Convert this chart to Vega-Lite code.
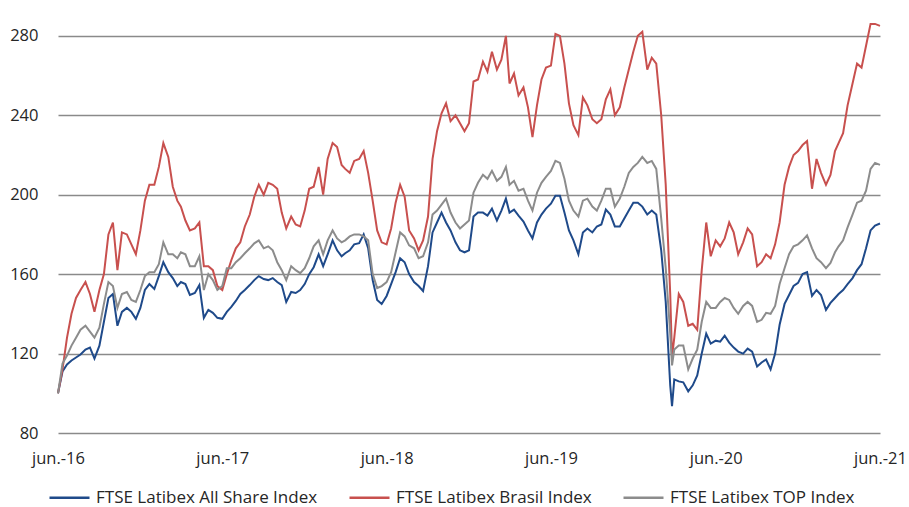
{
  "$schema": "https://vega.github.io/schema/vega-lite/v6.json",
  "autosize": "none",
  "width": 822,
  "height": 421,
  "padding": {"left": 58, "top": 12, "right": 29, "bottom": 74},
  "background": "white",
  "config": {
    "view": {"stroke": null},
    "font": "Open Sans"
  },
  "data": {
    "values": [
      {"d":"2016-06-01","a":100,"b":100,"t":100},
      {"d":"2016-06-11","a":111,"b":112,"t":115},
      {"d":"2016-06-21","a":114.5,"b":128,"t":119},
      {"d":"2016-07-01","a":116.5,"b":140,"t":124},
      {"d":"2016-07-11","a":118,"b":148,"t":128},
      {"d":"2016-07-21","a":119.5,"b":152,"t":132},
      {"d":"2016-08-01","a":122,"b":156,"t":134},
      {"d":"2016-08-11","a":123,"b":150,"t":131},
      {"d":"2016-08-21","a":117.5,"b":141,"t":128},
      {"d":"2016-09-01","a":124,"b":152,"t":133},
      {"d":"2016-09-11","a":136,"b":160,"t":145},
      {"d":"2016-09-21","a":148,"b":180,"t":156},
      {"d":"2016-10-01","a":150,"b":186,"t":154},
      {"d":"2016-10-11","a":134,"b":162,"t":143},
      {"d":"2016-10-21","a":141,"b":181,"t":150},
      {"d":"2016-11-01","a":143,"b":180,"t":151},
      {"d":"2016-11-11","a":141,"b":175,"t":147},
      {"d":"2016-11-21","a":137.5,"b":170,"t":146},
      {"d":"2016-12-01","a":143,"b":182,"t":152},
      {"d":"2016-12-11","a":152,"b":197,"t":159},
      {"d":"2016-12-21","a":155,"b":205,"t":161},
      {"d":"2017-01-01","a":152.5,"b":205,"t":161},
      {"d":"2017-01-11","a":159,"b":214,"t":165},
      {"d":"2017-01-21","a":166,"b":226,"t":176},
      {"d":"2017-02-01","a":161,"b":219,"t":170},
      {"d":"2017-02-11","a":158,"b":204,"t":170},
      {"d":"2017-02-21","a":154,"b":197,"t":168},
      {"d":"2017-03-01","a":156,"b":194,"t":171},
      {"d":"2017-03-11","a":155,"b":187,"t":170},
      {"d":"2017-03-21","a":149.5,"b":182,"t":164},
      {"d":"2017-04-01","a":150.5,"b":183,"t":164},
      {"d":"2017-04-11","a":154.5,"b":186,"t":169},
      {"d":"2017-04-21","a":138,"b":164,"t":152},
      {"d":"2017-05-01","a":142,"b":164,"t":160},
      {"d":"2017-05-11","a":140.5,"b":162,"t":157},
      {"d":"2017-05-21","a":138,"b":154,"t":152},
      {"d":"2017-06-01","a":137.5,"b":152,"t":154},
      {"d":"2017-06-11","a":141,"b":160,"t":163},
      {"d":"2017-06-21","a":143.5,"b":167,"t":163},
      {"d":"2017-07-01","a":146.5,"b":173,"t":166},
      {"d":"2017-07-11","a":150,"b":176,"t":168},
      {"d":"2017-07-21","a":152,"b":184,"t":170.5},
      {"d":"2017-08-01","a":154.5,"b":190,"t":173},
      {"d":"2017-08-11","a":157,"b":199,"t":175.5},
      {"d":"2017-08-21","a":159,"b":205,"t":177},
      {"d":"2017-09-01","a":157.5,"b":200,"t":173},
      {"d":"2017-09-11","a":157,"b":206,"t":174},
      {"d":"2017-09-21","a":158,"b":205,"t":172},
      {"d":"2017-10-01","a":156,"b":203,"t":166},
      {"d":"2017-10-11","a":154.5,"b":191,"t":162},
      {"d":"2017-10-21","a":146,"b":183,"t":157},
      {"d":"2017-11-01","a":151,"b":189,"t":164},
      {"d":"2017-11-11","a":150.5,"b":185,"t":162},
      {"d":"2017-11-21","a":152,"b":184,"t":160.5},
      {"d":"2017-12-01","a":155,"b":192,"t":163},
      {"d":"2017-12-11","a":160,"b":203,"t":168},
      {"d":"2017-12-21","a":163.5,"b":204,"t":174},
      {"d":"2018-01-01","a":170,"b":214,"t":177},
      {"d":"2018-01-11","a":164,"b":200,"t":170},
      {"d":"2018-01-21","a":170,"b":218,"t":177},
      {"d":"2018-02-01","a":177,"b":226,"t":182},
      {"d":"2018-02-11","a":172,"b":224,"t":178},
      {"d":"2018-02-21","a":169,"b":215,"t":176},
      {"d":"2018-03-01","a":170.5,"b":213,"t":177},
      {"d":"2018-03-11","a":172,"b":211,"t":179},
      {"d":"2018-03-21","a":175,"b":217,"t":180},
      {"d":"2018-04-01","a":175.6,"b":218,"t":180},
      {"d":"2018-04-11","a":180,"b":222,"t":179},
      {"d":"2018-04-21","a":173,"b":211,"t":177},
      {"d":"2018-05-01","a":157,"b":197,"t":160},
      {"d":"2018-05-11","a":147,"b":182,"t":153},
      {"d":"2018-05-21","a":145,"b":176,"t":154},
      {"d":"2018-06-01","a":149,"b":175,"t":156},
      {"d":"2018-06-11","a":155,"b":183,"t":161},
      {"d":"2018-06-21","a":161,"b":196,"t":171},
      {"d":"2018-07-01","a":168,"b":205,"t":181},
      {"d":"2018-07-11","a":166,"b":199,"t":179},
      {"d":"2018-07-21","a":160,"b":182,"t":174.5},
      {"d":"2018-08-01","a":156,"b":178,"t":173},
      {"d":"2018-08-11","a":154,"b":172,"t":168},
      {"d":"2018-08-21","a":151.5,"b":177,"t":169},
      {"d":"2018-09-01","a":164,"b":189,"t":176},
      {"d":"2018-09-11","a":181,"b":218,"t":190},
      {"d":"2018-09-21","a":186,"b":232,"t":192},
      {"d":"2018-10-01","a":191,"b":241,"t":195},
      {"d":"2018-10-11","a":186,"b":246,"t":198},
      {"d":"2018-10-21","a":182,"b":237,"t":191},
      {"d":"2018-11-01","a":176,"b":240,"t":186},
      {"d":"2018-11-11","a":172,"b":236,"t":183},
      {"d":"2018-11-21","a":171,"b":232,"t":185},
      {"d":"2018-12-01","a":172,"b":236,"t":187},
      {"d":"2018-12-11","a":189,"b":257,"t":201},
      {"d":"2018-12-21","a":191,"b":258,"t":206},
      {"d":"2019-01-01","a":191,"b":267,"t":210},
      {"d":"2019-01-11","a":189.5,"b":262,"t":208},
      {"d":"2019-01-21","a":193,"b":272,"t":212},
      {"d":"2019-02-01","a":187,"b":263,"t":207},
      {"d":"2019-02-11","a":192,"b":268,"t":209},
      {"d":"2019-02-21","a":198,"b":280,"t":214},
      {"d":"2019-03-01","a":191,"b":256,"t":205},
      {"d":"2019-03-11","a":192.5,"b":261,"t":207},
      {"d":"2019-03-21","a":189.5,"b":250,"t":202},
      {"d":"2019-04-01","a":186.5,"b":254,"t":203},
      {"d":"2019-04-11","a":182,"b":244,"t":197},
      {"d":"2019-04-21","a":178,"b":229,"t":192},
      {"d":"2019-05-01","a":186,"b":245,"t":201},
      {"d":"2019-05-11","a":190,"b":258,"t":206},
      {"d":"2019-05-21","a":193,"b":264,"t":209},
      {"d":"2019-06-01","a":195.5,"b":265,"t":212},
      {"d":"2019-06-11","a":199.5,"b":281,"t":217},
      {"d":"2019-06-21","a":199.5,"b":280,"t":216},
      {"d":"2019-07-01","a":191,"b":266,"t":208},
      {"d":"2019-07-11","a":182,"b":246,"t":197},
      {"d":"2019-07-21","a":177,"b":235,"t":192},
      {"d":"2019-08-01","a":170,"b":230,"t":189},
      {"d":"2019-08-11","a":181,"b":249,"t":197},
      {"d":"2019-08-21","a":183,"b":245,"t":198},
      {"d":"2019-09-01","a":181,"b":238,"t":194},
      {"d":"2019-09-11","a":184,"b":236,"t":192},
      {"d":"2019-09-21","a":185,"b":238,"t":197},
      {"d":"2019-10-01","a":192.5,"b":248,"t":203},
      {"d":"2019-10-11","a":190,"b":253,"t":203},
      {"d":"2019-10-21","a":184,"b":240,"t":194},
      {"d":"2019-11-01","a":184,"b":244,"t":198},
      {"d":"2019-11-11","a":188,"b":254,"t":204},
      {"d":"2019-11-21","a":192,"b":263,"t":211},
      {"d":"2019-12-01","a":196,"b":272,"t":214},
      {"d":"2019-12-11","a":196,"b":280,"t":216},
      {"d":"2019-12-21","a":194,"b":282,"t":219},
      {"d":"2020-01-01","a":190,"b":263,"t":216},
      {"d":"2020-01-11","a":192,"b":269,"t":217},
      {"d":"2020-01-21","a":190,"b":266,"t":213},
      {"d":"2020-02-01","a":172,"b":240,"t":188},
      {"d":"2020-02-11","a":146,"b":205,"t":163},
      {"d":"2020-02-21","a":104,"b":150,"t":130},
      {"d":"2020-02-25","a":93.5,"b":118,"t":114},
      {"d":"2020-03-01","a":107,"b":128,"t":122},
      {"d":"2020-03-11","a":106,"b":150,"t":124},
      {"d":"2020-03-21","a":105.5,"b":146,"t":124},
      {"d":"2020-04-01","a":101,"b":134,"t":112},
      {"d":"2020-04-11","a":104,"b":135,"t":117.5},
      {"d":"2020-04-21","a":109,"b":132,"t":122},
      {"d":"2020-05-01","a":120,"b":162,"t":136},
      {"d":"2020-05-11","a":130,"b":186,"t":146},
      {"d":"2020-05-21","a":125,"b":169,"t":143},
      {"d":"2020-06-01","a":126.5,"b":177,"t":143},
      {"d":"2020-06-11","a":126,"b":174,"t":146},
      {"d":"2020-06-21","a":129,"b":178,"t":148},
      {"d":"2020-07-01","a":125.5,"b":186,"t":147},
      {"d":"2020-07-11","a":123,"b":181,"t":143},
      {"d":"2020-07-21","a":121,"b":170,"t":140},
      {"d":"2020-08-01","a":120,"b":176,"t":144},
      {"d":"2020-08-11","a":122.5,"b":183,"t":146},
      {"d":"2020-08-21","a":121,"b":180,"t":144},
      {"d":"2020-09-01","a":113.5,"b":164,"t":136},
      {"d":"2020-09-11","a":115.5,"b":166,"t":137},
      {"d":"2020-09-21","a":117,"b":170,"t":140.5},
      {"d":"2020-10-01","a":112,"b":168,"t":140},
      {"d":"2020-10-11","a":120,"b":175,"t":144},
      {"d":"2020-10-21","a":134.5,"b":186,"t":155},
      {"d":"2020-11-01","a":145,"b":205,"t":163},
      {"d":"2020-11-11","a":149.5,"b":214,"t":170},
      {"d":"2020-11-21","a":154,"b":220,"t":174},
      {"d":"2020-12-01","a":155.6,"b":222,"t":175},
      {"d":"2020-12-11","a":160,"b":225,"t":177},
      {"d":"2020-12-21","a":161,"b":227,"t":179.5},
      {"d":"2021-01-01","a":149,"b":203,"t":173},
      {"d":"2021-01-11","a":152,"b":218,"t":168},
      {"d":"2021-01-21","a":149.5,"b":211,"t":166},
      {"d":"2021-02-01","a":142,"b":205,"t":163},
      {"d":"2021-02-11","a":145.5,"b":210,"t":165.6},
      {"d":"2021-02-21","a":148,"b":222,"t":171},
      {"d":"2021-03-01","a":150,"b":226,"t":174},
      {"d":"2021-03-11","a":152,"b":231,"t":177},
      {"d":"2021-03-21","a":155,"b":245,"t":183.5},
      {"d":"2021-04-01","a":158,"b":256,"t":190},
      {"d":"2021-04-11","a":162,"b":266,"t":196},
      {"d":"2021-04-21","a":165,"b":264,"t":197},
      {"d":"2021-05-01","a":173,"b":275,"t":202},
      {"d":"2021-05-11","a":182,"b":286,"t":213},
      {"d":"2021-05-21","a":184.5,"b":286,"t":216},
      {"d":"2021-06-01","a":185.5,"b":285,"t":215}
    ]
  },
  "transform": [{"fold": ["a", "b", "t"], "as": ["serie", "valor"]}],
  "mark": {"type": "line", "strokeWidth": 2, "interpolate": "linear"},
  "encoding": {
    "x": {
      "field": "d",
      "type": "temporal",
      "scale": {"type": "utc", "domain": [{"year": 2016, "month": 6, "date": 1, "utc": true}, {"year": 2021, "month": 6, "date": 1, "utc": true}]},
      "axis": {
        "title": null,
        "domain": false,
        "ticks": false,
        "tickSize": 0,
        "grid": false,
        "values": [
          {"year": 2016, "month": 6, "date": 1, "utc": true},
          {"year": 2017, "month": 6, "date": 1, "utc": true},
          {"year": 2018, "month": 6, "date": 1, "utc": true},
          {"year": 2019, "month": 6, "date": 1, "utc": true},
          {"year": 2020, "month": 6, "date": 1, "utc": true},
          {"year": 2021, "month": 6, "date": 1, "utc": true}
        ],
        "labelExpr": "lower(utcFormat(datum.value, '%b')) + '.-' + utcFormat(datum.value, '%y')",
        "labelFont": "Open Sans",
        "labelFontSize": 16.5,
        "labelColor": "#262626",
        "labelPadding": 17,
        "labelFlush": false,
        "labelOverlap": false,
        "labelBound": false
      }
    },
    "y": {
      "field": "valor",
      "type": "quantitative",
      "scale": {"domain": [80, 292], "nice": false, "zero": false},
      "axis": {
        "title": null,
        "domain": false,
        "ticks": false,
        "tickSize": 0,
        "values": [80, 120, 160, 200, 240, 280],
        "grid": true,
        "gridColor": "#8a8a8a",
        "gridWidth": 1.4,
        "labelFont": "Open Sans",
        "labelFontSize": 16.5,
        "labelColor": "#262626",
        "labelPadding": 20
      }
    },
    "color": {
      "field": "serie",
      "type": "nominal",
      "scale": {"domain": ["a", "b", "t"], "range": ["#1F4A8A", "#C8504E", "#8C8C8C"]},
      "legend": {
        "title": null,
        "orient": "none",
        "legendX": -10,
        "legendY": 464,
        "direction": "horizontal",
        "symbolType": "stroke",
        "symbolSize": 1600,
        "symbolStrokeWidth": 2.5,
        "labelFont": "Open Sans",
        "labelFontSize": 17,
        "labelColor": "#262626",
        "labelOffset": 5,
        "columnPadding": 26,
        "labelLimit": 400,
        "labelExpr": "datum.value == 'a' ? 'FTSE Latibex All Share Index' : datum.value == 'b' ? 'FTSE Latibex Brasil Index' : 'FTSE Latibex TOP Index'"
      }
    }
  }
}
